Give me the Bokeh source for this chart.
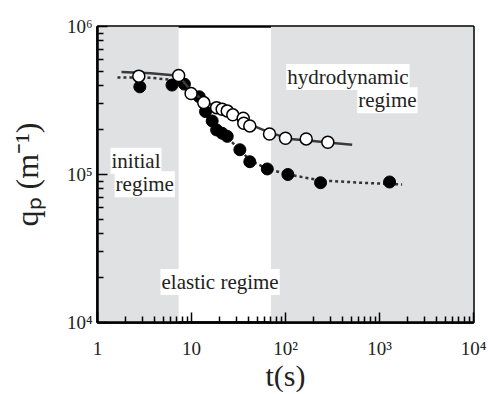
from bokeh.plotting import figure
from bokeh.models import Range1d, BoxAnnotation, Label, FixedTicker
from bokeh.embed import file_html
from bokeh.resources import INLINE

# ---- data ----
open_t = [2.75, 7.3, 9.9, 13.5, 18.5, 21.2, 24, 27.5, 35.5, 36, 41.7, 67.6, 100, 166, 282]
open_q = [4.62e5, 4.67e5, 3.53e5, 3.06e5, 2.83e5, 2.76e5, 2.69e5, 2.53e5, 2.40e5, 2.22e5,
          2.13e5, 1.88e5, 1.76e5, 1.74e5, 1.65e5]

filled_t = [2.82, 6.2, 8.4, 12.1, 14.1, 16.6, 18.5, 21.2, 24, 32.7, 41.7, 64, 106, 236, 1280]
filled_q = [3.91e5, 4.02e5, 4.08e5, 3.35e5, 2.66e5, 2.30e5, 2.0e5, 1.90e5, 1.81e5, 1.47e5,
            1.22e5, 1.09e5, 1.0e5, 8.8e4, 8.9e4]

fit_open_t = [1.8, 3.7, 6.8, 7.6, 10.2, 14.1, 20.4, 29.4, 42.4, 69, 113, 184, 300, 512]
fit_open_q = [4.92e5, 4.84e5, 4.66e5, 4.5e5, 3.61e5, 3.09e5, 2.77e5, 2.49e5, 2.17e5, 1.91e5,
              1.74e5, 1.69e5, 1.64e5, 1.59e5]

fit_filled_t = [1.63, 3.7, 5.7, 8.6, 11.9, 15.2, 19.4, 24.7, 33.2, 42.4, 64.4, 113, 236, 628, 1740]
fit_filled_q = [4.53e5, 4.5e5, 4.38e5, 4.08e5, 3.39e5, 2.53e5, 2.0e5, 1.75e5, 1.45e5, 1.24e5,
                1.09e5, 9.93e4, 9.12e4, 8.8e4, 8.57e4]

gray_left = [1, 70]
gray_right = [7.3, 10000]

x_ticks = [1, 10, 100, 1000, 10000]
x_tick_labels = ["1", "10", "10²", "10³", "10⁴"]
y_ticks = [10000, 100000, 1000000]
y_tick_labels = ["10⁴", "10⁵", "10⁶"]

FONT = "Liberation Serif"

p = figure(width=488, height=394, x_axis_type="log", y_axis_type="log",
           x_range=Range1d(1, 10000), y_range=Range1d(10000, 1000000),
           output_backend="svg", toolbar_location=None,
           min_border_left=97, min_border_right=15, min_border_top=26, min_border_bottom=70)
p.xgrid.visible = False
p.ygrid.visible = False
p.background_fill_color = "white"
p.border_fill_color = "white"
p.outline_line_color = "black"
p.outline_line_width = 2.5

for l, r in zip(gray_left, gray_right):
    p.add_layout(BoxAnnotation(left=l, right=r, fill_color="#e0e1e3", fill_alpha=1,
                               line_alpha=0, level="underlay"))

def minors(ticks):
    out = []
    for t in ticks[:-1]:
        out += [t * k for k in range(2, 10)]
    return out

p.xaxis.ticker = FixedTicker(ticks=x_ticks, minor_ticks=minors(x_ticks))
p.yaxis.ticker = FixedTicker(ticks=y_ticks, minor_ticks=minors(y_ticks))
p.xaxis.major_label_overrides = {t: s for t, s in zip(x_ticks, x_tick_labels)}
p.yaxis.major_label_overrides = {t: s for t, s in zip(y_ticks, y_tick_labels)}

for ax in (p.xaxis[0], p.yaxis[0]):
    ax.axis_line_width = 2.5
    ax.axis_line_color = "black"
    ax.major_tick_in = 10
    ax.major_tick_out = 0
    ax.minor_tick_in = 6
    ax.minor_tick_out = 0
    ax.major_tick_line_width = 1.5
    ax.minor_tick_line_width = 1.5
    ax.major_label_text_font = FONT
    ax.major_label_text_font_size = "19px"
    ax.major_label_text_color = "#222222"
    ax.axis_label_text_font = FONT
    ax.axis_label_text_font_style = "normal"
    ax.axis_label_text_color = "#222222"
    ax.axis_label_text_font_size = "30px"

p.xaxis.axis_label = "t(s)"
p.xaxis.major_label_standoff = 15
p.xaxis.axis_label_standoff = -3
p.yaxis.axis_label = "qₚ (m⁻¹)"
p.yaxis.axis_label_text_font_size = "32px"
p.yaxis.major_label_standoff = 5
p.yaxis.axis_label_standoff = 19

p.line(fit_filled_t, fit_filled_q, line_color="#333333", line_width=2.5, line_dash="3 3")
p.scatter(filled_t, filled_q, size=12, fill_color="black", line_color="black", line_width=1)
p.line(fit_open_t, fit_open_q, line_color="#3a3a3a", line_width=2.5)
p.scatter(open_t, open_q, size=12, fill_color="white", line_color="black", line_width=1.5)

def lab(x, y, text, align="left"):
    p.add_layout(Label(x=x, y=y, text=text, text_font=FONT, text_font_size="21px",
                       text_color="#222222", text_align=align, text_baseline="middle",
                       background_fill_color="white", background_fill_alpha=1, padding=1))

lab(102, 4.55e5, "hydrodynamic")
lab(2540, 3.18e5, "regime", align="right")
lab(1.375, 1.24e5, "initial")
lab(1.52, 8.6e4, "regime")
lab(4.68, 1.88e4, "elastic regime")

open("out.html", "w").write(file_html(p, INLINE))
